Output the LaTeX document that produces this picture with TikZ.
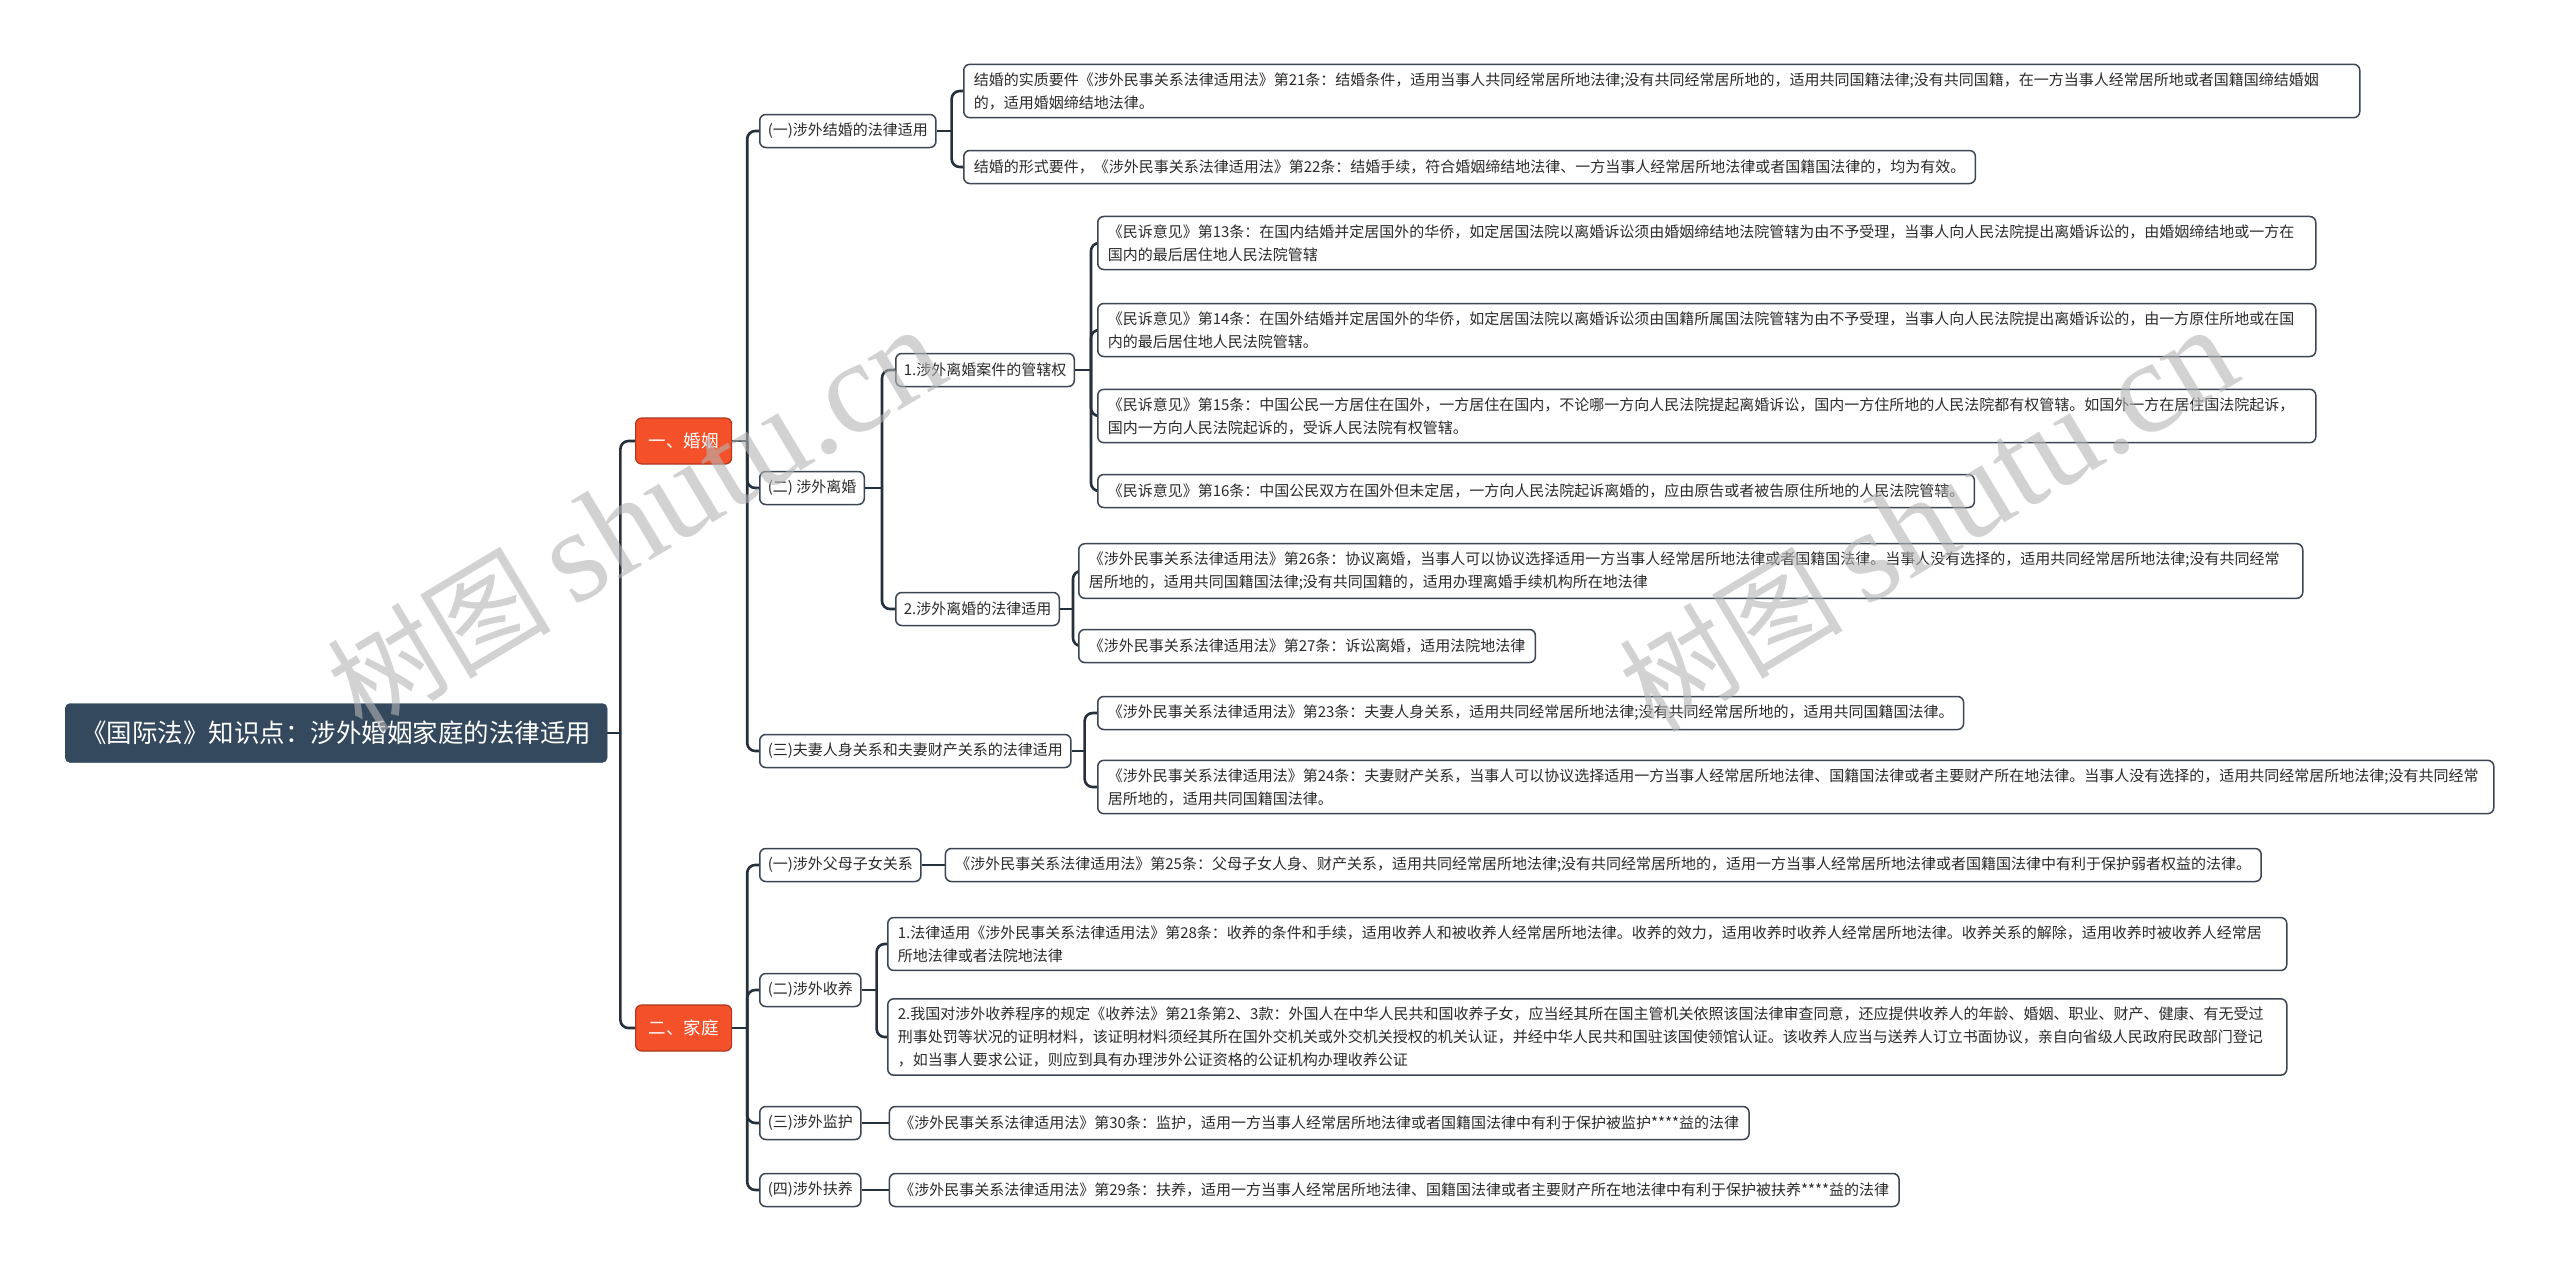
\documentclass[tikz,border=0pt]{standalone}
\usepackage{fontspec}
\setmainfont{Noto Sans CJK SC}
\newfontfamily\wmlatin{Liberation Serif}
\usetikzlibrary{positioning,backgrounds}
\definecolor{titlebg}{HTML}{34495E}
\definecolor{topicbg}{HTML}{F4502A}
\definecolor{boxline}{HTML}{3B4652}
\definecolor{boxtext}{HTML}{2B2B2B}
\definecolor{linkc}{HTML}{24303C}
\definecolor{wmgray}{HTML}{B4B4B4}

\begin{document}
\begin{tikzpicture}[x=1pt, y=-1pt,
    title/.style={fill=titlebg, draw=titlebg!85!black, rounded corners=5pt, text=white, font=\fontsize{25.5}{30}\selectfont, inner xsep=16pt, minimum height=59pt, anchor=west},
    topic/.style={fill=topicbg, draw=topicbg!70!black, line width=1.2pt, rounded corners=6pt, text=white, font=\fontsize{17.5}{21}\selectfont, minimum width=96pt, minimum height=46pt, anchor=west},
    sub/.style={fill=white, draw=boxline, line width=1.5pt, rounded corners=6pt, text=boxtext, font=\fontsize{15}{23}\selectfont, inner xsep=8pt, inner ysep=8pt, minimum height=33pt, anchor=west},
    leaf/.style={sub, inner xsep=10pt, align=left},
    link/.style={draw=linkc, line width=2.6pt, rounded corners=8pt},
    wm/.style={text=wmgray, opacity=0.6, font=\fontsize{112}{112}\selectfont, rotate=31}]
  \useasboundingbox (0,0) rectangle (2560,1272);

  % root and main topics
  \node[title] (title) at (65,733) {《国际法》知识点：涉外婚姻家庭的法律适用};
  \node[topic] (hunyin) at (635,441) {一、婚姻};
  \node[topic] (jiating) at (635,1028) {二、家庭};

  % 婚姻
  \node[sub] (jiehun) at (759,131) {(一)涉外结婚的法律适用};
  \node[sub] (lihun) at (759,488) {(二) 涉外离婚};
  \node[sub] (fuqi) at (759,751) {(三)夫妻人身关系和夫妻财产关系的法律适用};

  \node[leaf, text width=1376pt] (jh21) at (963,91) {结婚的实质要件《涉外民事关系法律适用法》第21条：结婚条件，适用当事人共同经常居所地法律;没有共同经常居所地的，适用共同国籍法律;没有共同国籍，在一方当事人经常居所地或者国籍国缔结婚姻\\的，适用婚姻缔结地法律。};
  \node[leaf] (jh22) at (963,167) {结婚的形式要件，《涉外民事关系法律适用法》第22条：结婚手续，符合婚姻缔结地法律、一方当事人经常居所地法律或者国籍国法律的，均为有效。};

  \node[sub] (gxq) at (895,370) {1.涉外离婚案件的管辖权};
  \node[sub] (lhsy) at (895,609) {2.涉外离婚的法律适用};

  \node[leaf, text width=1198pt] (lh13) at (1097,243) {《民诉意见》第13条：在国内结婚并定居国外的华侨，如定居国法院以离婚诉讼须由婚姻缔结地法院管辖为由不予受理，当事人向人民法院提出离婚诉讼的，由婚姻缔结地或一方在\\国内的最后居住地人民法院管辖};
  \node[leaf, text width=1198pt] (lh14) at (1097,330) {《民诉意见》第14条：在国外结婚并定居国外的华侨，如定居国法院以离婚诉讼须由国籍所属国法院管辖为由不予受理，当事人向人民法院提出离婚诉讼的，由一方原住所地或在国\\内的最后居住地人民法院管辖。};
  \node[leaf, text width=1198pt] (lh15) at (1097,416) {《民诉意见》第15条：中国公民一方居住在国外，一方居住在国内，不论哪一方向人民法院提起离婚诉讼，国内一方住所地的人民法院都有权管辖。如国外一方在居住国法院起诉，\\国内一方向人民法院起诉的，受诉人民法院有权管辖。};
  \node[leaf] (lh16) at (1097,491) {《民诉意见》第16条：中国公民双方在国外但未定居，一方向人民法院起诉离婚的，应由原告或者被告原住所地的人民法院管辖。};

  \node[leaf, text width=1204pt] (lh26) at (1078,571) {《涉外民事关系法律适用法》第26条：协议离婚，当事人可以协议选择适用一方当事人经常居所地法律或者国籍国法律。当事人没有选择的，适用共同经常居所地法律;没有共同经常\\居所地的，适用共同国籍国法律;没有共同国籍的，适用办理离婚手续机构所在地法律};
  \node[leaf] (lh27) at (1078,646) {《涉外民事关系法律适用法》第27条：诉讼离婚，适用法院地法律};

  \node[leaf] (fq23) at (1097,713) {《涉外民事关系法律适用法》第23条：夫妻人身关系，适用共同经常居所地法律;没有共同经常居所地的，适用共同国籍国法律。};
  \node[leaf, text width=1376pt] (fq24) at (1097,787) {《涉外民事关系法律适用法》第24条：夫妻财产关系，当事人可以协议选择适用一方当事人经常居所地法律、国籍国法律或者主要财产所在地法律。当事人没有选择的，适用共同经常居所地法律;没有共同经常\\居所地的，适用共同国籍国法律。};

  % 家庭
  \node[sub] (fumu) at (759,865) {(一)涉外父母子女关系};
  \node[sub] (shouyang) at (759,990) {(二)涉外收养};
  \node[sub] (jianhu) at (759,1123) {(三)涉外监护};
  \node[sub] (fuyang) at (759,1190) {(四)涉外扶养};

  \node[leaf, right=23pt of fumu] (fm25) {《涉外民事关系法律适用法》第25条：父母子女人身、财产关系，适用共同经常居所地法律;没有共同经常居所地的，适用一方当事人经常居所地法律或者国籍国法律中有利于保护弱者权益的法律。};
  \node[leaf, text width=1379pt] (sy1) at (887,944) {1.法律适用《涉外民事关系法律适用法》第28条：收养的条件和手续，适用收养人和被收养人经常居所地法律。收养的效力，适用收养时收养人经常居所地法律。收养关系的解除，适用收养时被收养人经常居\\所地法律或者法院地法律};
  \node[leaf, text width=1379pt] (sy2) at (887,1037) {2.我国对涉外收养程序的规定《收养法》第21条第2、3款：外国人在中华人民共和国收养子女，应当经其所在国主管机关依照该国法律审查同意，还应提供收养人的年龄、婚姻、职业、财产、健康、有无受过\\刑事处罚等状况的证明材料，该证明材料须经其所在国外交机关或外交机关授权的机关认证，并经中华人民共和国驻该国使领馆认证。该收养人应当与送养人订立书面协议，亲自向省级人民政府民政部门登记\\，如当事人要求公证，则应到具有办理涉外公证资格的公证机构办理收养公证};
  \node[leaf, right=27pt of jianhu] (jh30) {《涉外民事关系法律适用法》第30条：监护，适用一方当事人经常居所地法律或者国籍国法律中有利于保护被监护****益的法律};
  \node[leaf, right=27pt of fuyang] (fy29) {《涉外民事关系法律适用法》第29条：扶养，适用一方当事人经常居所地法律、国籍国法律或者主要财产所在地法律中有利于保护被扶养****益的法律};

  % branch points
  \path (title.east) ++(13,0) coordinate (title-j);
  \path (hunyin.east) ++(15,0) coordinate (hunyin-j);
  \path (jiating.east) ++(15,0) coordinate (jiating-j);
  \path (jiehun.east) ++(15,0) coordinate (jiehun-j);
  \path (lihun.east) ++(17,0) coordinate (lihun-j);
  \path (gxq.east) ++(16,0) coordinate (gxq-j);
  \path (lhsy.east) ++(13,0) coordinate (lhsy-j);
  \path (fuqi.east) ++(13,0) coordinate (fuqi-j);
  \path (shouyang.east) ++(15,0) coordinate (shouyang-j);

  \begin{scope}[on background layer]
    \fill[white] (0,0) rectangle (2560,1272);
    \draw[link] (title.east) -- (title-j);
    \draw[link] (title-j) |- (hunyin.west);
    \draw[link] (title-j) |- (jiating.west);

    \draw[link] (hunyin.east) -- (hunyin-j);
    \draw[link] (hunyin-j) |- (jiehun.west);
    \draw[link] (hunyin-j) |- (lihun.west);
    \draw[link] (hunyin-j) |- (fuqi.west);

    \draw[link] (jiehun.east) -- (jiehun-j);
    \draw[link] (jiehun-j) |- (jh21.west);
    \draw[link] (jiehun-j) |- (jh22.west);

    \draw[link] (lihun.east) -- (lihun-j);
    \draw[link] (lihun-j) |- (gxq.west);
    \draw[link] (lihun-j) |- (lhsy.west);

    \draw[link] (gxq.east) -- (gxq-j);
    \draw[link] (gxq-j) |- (lh13.west);
    \draw[link] (gxq-j) |- (lh14.west);
    \draw[link] (gxq-j) |- (lh15.west);
    \draw[link] (gxq-j) |- (lh16.west);

    \draw[link] (lhsy.east) -- (lhsy-j);
    \draw[link] (lhsy-j) |- (lh26.west);
    \draw[link] (lhsy-j) |- (lh27.west);

    \draw[link] (fuqi.east) -- (fuqi-j);
    \draw[link] (fuqi-j) |- (fq23.west);
    \draw[link] (fuqi-j) |- (fq24.west);

    \draw[link] (jiating.east) -- (jiating-j);
    \draw[link] (jiating-j) |- (fumu.west);
    \draw[link] (jiating-j) |- (shouyang.west);
    \draw[link] (jiating-j) |- (jianhu.west);
    \draw[link] (jiating-j) |- (fuyang.west);

    \draw[link] (fumu) -- (fm25);
    \draw[link] (shouyang.east) -- (shouyang-j);
    \draw[link] (shouyang-j) |- (sy1.west);
    \draw[link] (shouyang-j) |- (sy2.west);
    \draw[link] (jianhu) -- (jh30);
    \draw[link] (fuyang) -- (fy29);
  \end{scope}

  % watermark
  \node[wm] (wm1) at (636,520) {树图{\wmlatin\fontsize{132}{132}\selectfont\,shutu.cn}};
  \node[wm] (wm2) at (1928,520) {树图{\wmlatin\fontsize{132}{132}\selectfont\,shutu.cn}};
\end{tikzpicture}
\end{document}
